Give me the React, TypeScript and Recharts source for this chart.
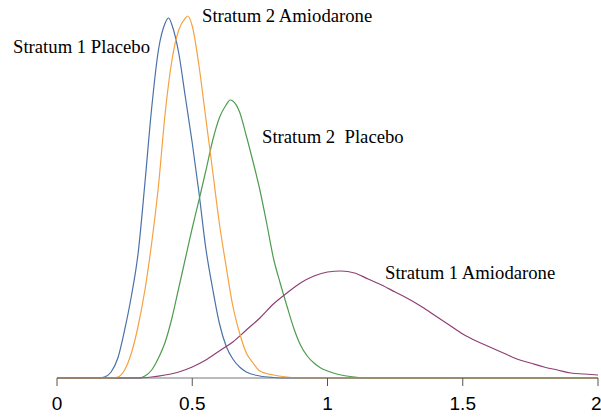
import React from "react";
import { LineChart, Line, XAxis, YAxis } from "recharts";

// density curves, x in ratio units, y in density units
const s1PlaceboX = [0, 0.15, 0.175, 0.2, 0.225, 0.25, 0.275, 0.3, 0.325, 0.35, 0.375, 0.4, 0.4125, 0.425, 0.45, 0.475, 0.5, 0.525, 0.55, 0.575, 0.6, 0.625, 0.65, 0.675, 0.7, 0.75, 0.8, 0.85, 2];
const s1PlaceboY = [0, 0, 0.01, 0.06, 0.2, 0.48, 0.82, 1.25, 1.95, 2.7, 3.28, 3.55, 3.6, 3.53, 3.25, 2.8, 2.35, 1.85, 1.3, 0.9, 0.55, 0.32, 0.19, 0.11, 0.06, 0.02, 0.005, 0, 0];

const s2AmioX = [0, 0.2, 0.225, 0.25, 0.275, 0.3, 0.325, 0.35, 0.375, 0.4, 0.425, 0.45, 0.475, 0.4825, 0.5, 0.525, 0.55, 0.575, 0.6, 0.625, 0.65, 0.675, 0.7, 0.725, 0.75, 0.8, 0.85, 0.9, 2];
const s2AmioY = [0, 0, 0.01, 0.08, 0.25, 0.52, 0.88, 1.35, 1.92, 2.65, 3.18, 3.48, 3.6, 3.62, 3.52, 3.12, 2.6, 2.08, 1.55, 1.12, 0.72, 0.45, 0.25, 0.15, 0.07, 0.03, 0.01, 0, 0];

const s2PlaceboX = [0, 0.3, 0.325, 0.35, 0.375, 0.4, 0.425, 0.45, 0.475, 0.5, 0.525, 0.55, 0.575, 0.6, 0.625, 0.64, 0.65, 0.675, 0.7, 0.725, 0.75, 0.775, 0.8, 0.825, 0.85, 0.875, 0.9, 0.925, 0.95, 0.975, 1.0, 1.05, 1.1, 1.15, 2];
const s2PlaceboY = [0, 0, 0.02, 0.08, 0.2, 0.36, 0.6, 0.9, 1.2, 1.5, 1.78, 2.07, 2.37, 2.6, 2.73, 2.78, 2.77, 2.66, 2.42, 2.16, 1.88, 1.55, 1.2, 0.95, 0.72, 0.5, 0.33, 0.22, 0.15, 0.1, 0.07, 0.03, 0.01, 0, 0];

const s1AmioX = [0, 0.3, 0.35, 0.4, 0.45, 0.5, 0.55, 0.6, 0.65, 0.7, 0.75, 0.8, 0.85, 0.9, 0.95, 1.0, 1.05, 1.1, 1.15, 1.2, 1.25, 1.3, 1.35, 1.4, 1.45, 1.5, 1.55, 1.6, 1.65, 1.7, 1.75, 1.8, 1.85, 1.9, 1.95, 2.0];
const s1AmioY = [0, 0, 0.01, 0.03, 0.06, 0.11, 0.18, 0.27, 0.36, 0.48, 0.6, 0.74, 0.85, 0.95, 1.02, 1.06, 1.07, 1.05, 0.99, 0.93, 0.86, 0.79, 0.71, 0.62, 0.53, 0.44, 0.37, 0.31, 0.25, 0.19, 0.15, 0.11, 0.08, 0.05, 0.04, 0.03];

const xTicks = [0, 0.5, 1, 1.5, 2];

const toPoints = (xs: number[], ys: number[]) => xs.map((x, i) => ({ x, y: ys[i] }));

const labels = [
  { text: "Stratum 1 Placebo", left: 13, top: 38 },
  { text: "Stratum 2 Amiodarone", left: 202, top: 7 },
  { text: "Stratum 2  Placebo", left: 262, top: 128 },
  { text: "Stratum 1 Amiodarone", left: 385, top: 264 },
];

export default function App() {
  return (
    <div style={{ position: "absolute", left: 0, top: 0, width: 601, height: 418, background: "#fff" }}>
      <LineChart width={601} height={418} margin={{ top: 10, right: 3, bottom: 10, left: 57 }}>
        <XAxis
          type="number"
          dataKey="x"
          domain={[0, 2]}
          ticks={xTicks}
          tickFormatter={(v: number) => String(v)}
          height={30}
          axisLine={{ stroke: "#777" }}
          tickLine={{ stroke: "#555" }}
          tickSize={8}
          tickMargin={11}
          tick={{ fill: "#000", fontSize: 19, fontFamily: "Liberation Sans, Arial, sans-serif" }}
          allowDuplicatedCategory={false}
        />
        <YAxis hide type="number" dataKey="y" domain={[0, 3.68]} width={0} />
        <Line data={toPoints(s1PlaceboX, s1PlaceboY)} dataKey="y" type="monotone" stroke="#4a72a8" strokeWidth={1.2} dot={false} isAnimationActive={false} />
        <Line data={toPoints(s2PlaceboX, s2PlaceboY)} dataKey="y" type="monotone" stroke="#4f9c4f" strokeWidth={1.2} dot={false} isAnimationActive={false} />
        <Line data={toPoints(s1AmioX, s1AmioY)} dataKey="y" type="monotone" stroke="#8e3f74" strokeWidth={1.2} dot={false} isAnimationActive={false} />
        <Line data={toPoints(s2AmioX, s2AmioY)} dataKey="y" type="monotone" stroke="#f4a340" strokeWidth={1.2} dot={false} isAnimationActive={false} />
      </LineChart>
      {labels.map((l) => (
        <div
          key={l.text}
          style={{
            position: "absolute",
            left: l.left,
            top: l.top,
            fontFamily: "Liberation Serif, 'Times New Roman', serif",
            fontSize: 18.7,
            lineHeight: "18px",
            whiteSpace: "pre",
            color: "#000",
          }}
        >
          {l.text}
        </div>
      ))}
    </div>
  );
}
